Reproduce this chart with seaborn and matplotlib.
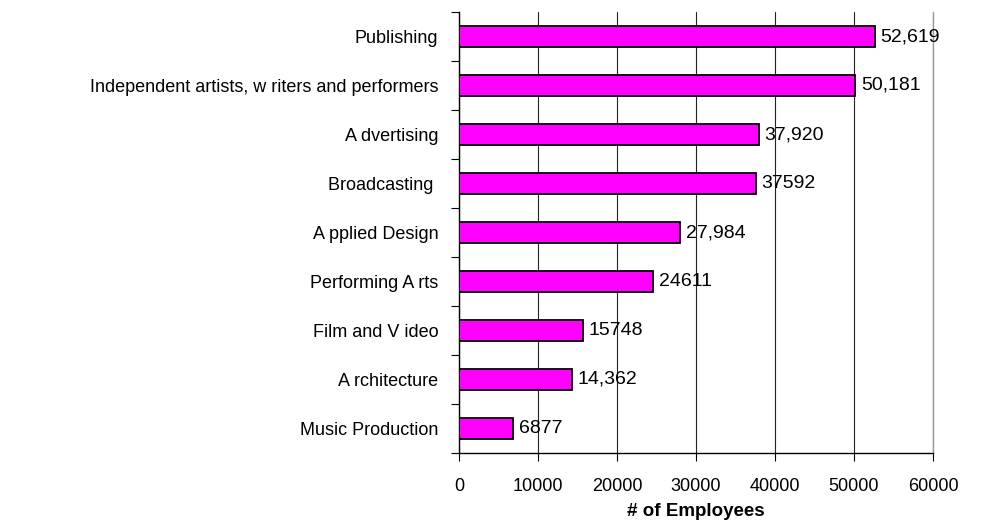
import matplotlib
matplotlib.use("Agg")
import matplotlib.pyplot as plt
import seaborn as sns
import pandas as pd
import numpy as np

categories = [
    "Publishing",
    "Independent artists, w riters and performers",
    "A dvertising",
    "Broadcasting ",
    "A pplied Design",
    "Performing A rts",
    "Film and V ideo",
    "A rchitecture",
    "Music Production",
]
employees = [52619, 50181, 37920, 37592, 27984, 24611, 15748, 14362, 6877]
value_labels = ["52,619", "50,181", "37,920", "37592", "27,984", "24611", "15748", "14,362", "6877"]
x_ticks = [0, 10000, 20000, 30000, 40000, 50000, 60000]

sns.set_theme(style="white")
plt.rcParams["font.family"] = ["Liberation Sans", "DejaVu Sans"]
plt.rcParams["text.color"] = "black"
plt.rcParams["xtick.color"] = "black"
plt.rcParams["ytick.color"] = "black"
plt.rcParams["axes.labelcolor"] = "black"

df = pd.DataFrame({"category": categories, "employees": employees})

fig = plt.figure(figsize=(9.89, 5.23), dpi=100)
ax = fig.add_axes([459 / 989, 1 - 453 / 523, (933 - 459) / 989, (453 - 12) / 523])

sns.barplot(data=df, y="category", x="employees", orient="h", ax=ax,
            color="#FF00FF", width=0.44, edgecolor="black", linewidth=1.3,
            saturation=1, zorder=3)

ax.set_xlim(0, 60000)
ax.set_ylim(len(categories) - 0.5, -0.5)
ax.set_xticks(x_ticks)
ax.set_xticklabels([str(t) for t in x_ticks], fontsize=13)
ax.xaxis.grid(True, color="#222222", linewidth=0.8, zorder=0)
ax.yaxis.grid(False)

# category ticks sit on the boundaries between bars
ax.set_yticks(np.arange(len(categories)))
ax.set_yticklabels(categories, fontsize=13)
ax.tick_params(axis="y", length=0, pad=15)
ax.set_yticks(np.arange(-0.5, len(categories) + 0.5, 1), minor=True)
ax.tick_params(axis="y", which="minor", length=6, color="black", width=0.8, direction="out", left=True)
ax.tick_params(axis="x", length=6, color="black", width=0.8, direction="out", bottom=True, pad=12)

for side in ["left", "bottom"]:
    ax.spines[side].set_color("black")
    ax.spines[side].set_linewidth(1.0)
ax.spines["top"].set_visible(False)
ax.spines["right"].set_color("#999999")
ax.spines["right"].set_linewidth(1.0)

for i, (v, lab) in enumerate(zip(employees, value_labels)):
    ax.text(v + 700, i, lab, va="center", ha="left", fontsize=14, color="black", zorder=4)

ax.set_ylabel("")
ax.set_xlabel("# of Employees", fontsize=13.5, fontweight="bold", labelpad=6)

fig.savefig("out.png", dpi=100)
